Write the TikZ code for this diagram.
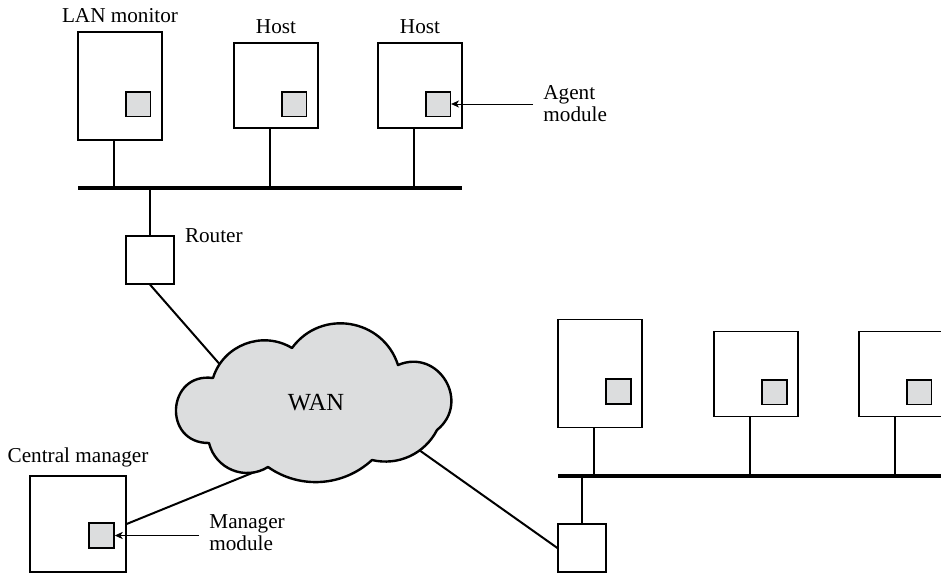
\documentclass[tikz,border=0pt]{standalone}
\usepackage{fontspec}
\setmainfont{Liberation Serif}
\usetikzlibrary{arrows.meta}
\definecolor{modgray}{HTML}{DCDDDE}

\begin{document}
\begin{tikzpicture}[x=0.5pt, y=-0.5pt,
    font=\fontsize{10.6}{11}\selectfont,
    box/.style={draw, line width=0.6pt, minimum width=42pt, inner sep=0pt},
    tallbox/.style={box, minimum height=54pt},
    hostbox/.style={box, minimum height=42.5pt},
    module/.style={draw, fill=modgray, line width=0.8pt, minimum size=12.3pt, inner sep=0pt},
    bus/.style={line width=2pt},
    drop/.style={line width=0.6pt},
    link/.style={line width=1pt},
    pointer/.style={-{Stealth[length=4pt,width=3.6pt,inset=1.2pt]}, line width=0.5pt},
    txt/.style={inner sep=0pt}]
  \useasboundingbox (0,0) rectangle (941,573);
  % ---------------------------------------------------------------- upper LAN
  \node[tallbox] (mon) at (120,86) {};
  \node[hostbox] (hostA) at (276,85.5) {};
  \node[hostbox] (hostB) at (420,85.5) {};
  \node[module] (mMon) at (138,104) {};
  \node[module] (mHostA) at (294,104) {};
  \node[module] (mHostB) at (438,104) {};
  \node[txt, anchor=base] (monLbl) at ([yshift=4.5pt]mon.north) {LAN monitor};
  \node[txt, anchor=base] (hostALbl) at ([yshift=4.5pt]hostA.north) {Host};
  \node[txt, anchor=base] (hostBLbl) at ([yshift=4.5pt]hostB.north) {Host};
  % the agent module pointer
  \node[anchor=west, align=left, inner xsep=5pt, inner ysep=0pt] (agentTxt) at (533,104) {Agent\\module};
  \draw[pointer] (agentTxt.west) -- (mHostB.east);
  % the bus and its drops
  \coordinate (busAW) at (78,188);
  \coordinate (busAE) at (462,188);
  \draw[bus] (busAW) -- (busAE);
  \foreach \n in {mon,hostA,hostB}
    \draw[drop] ([xshift=-3pt]\n.south) -- ([xshift=-3pt]\n.south |- busAW);
  % router
  \node[box, minimum width=24pt, minimum height=24pt] (rtr) at (150,260) {};
  \node[txt, anchor=base west] (rtrLbl) at ([xshift=5pt,yshift=-3.5pt]rtr.north east) {Router};
  \draw[drop] (rtr.north) -- (rtr.north |- busAW);
  % ---------------------------------------------------------------- central manager
  \node[box, minimum width=48pt, minimum height=48pt] (mgr) at (78,524) {};
  \node[module, minimum size=12.5pt] (mMgr) at (101.5,535.5) {};
  \node[txt, anchor=base] (mgrLbl) at ([yshift=6.5pt]mgr.north) {Central manager};
  \node[anchor=west, align=left, inner xsep=5pt, inner ysep=0pt] (mgrTxt) at (199,533) {Manager\\module};
  \draw[pointer] (mgrTxt.west |- mMgr.east) -- (mMgr.east);
  % ---------------------------------------------------------------- lower LAN
  \node[tallbox] (hostC) at (600,373.5) {};
  \node[hostbox] (hostD) at (756,374) {};
  \node[hostbox] (hostE) at (901,374) {};
  \node[module] (mHostC) at (618.5,391.5) {};
  \node[module] (mHostD) at (774.5,392) {};
  \node[module] (mHostE) at (919,392) {};
  \coordinate (busBW) at (558,476);
  \coordinate (busBE) at (941,476);
  \draw[bus] (busBW) -- (busBE);
  \foreach \n in {hostC,hostD,hostE}
    \draw[drop] ([xshift=-3pt]\n.south) -- ([xshift=-3pt]\n.south |- busBW);
  \node[box, minimum width=24pt, minimum height=24pt] (rtrB) at (582,548) {};
  \draw[drop] (rtrB.north) -- (rtrB.north |- busBW);
  % ---------------------------------------------------------------- WAN links, then the cloud on top
  \coordinate (wanNW) at (223,368);
  \coordinate (wanSW) at (262,469);
  \coordinate (wanSE) at (412,445);
  \draw[link] (rtr.south) -- (wanNW);
  \draw[link] (mgr.east) -- (wanSW);
  \draw[link] (rtrB.west) -- (wanSE);
  % the cloud: seven puffs between its cusps
  \coordinate (c1) at (213,378);
  \coordinate (c2) at (292,348);
  \coordinate (c3) at (398,365);
  \coordinate (c4) at (437,430);
  \coordinate (c5) at (372,460);
  \coordinate (c6) at (268,467);
  \coordinate (c7) at (209,443);
  \draw[fill=modgray, line width=1.2pt, line join=round]
    (c7) to[bend left=94, looseness=1.84] (c1)
         to[bend left=52, looseness=1.05] (c2)
         to[bend left=63, looseness=1.17] (c3)
         to[bend left=82, looseness=1.49] (c4)
         to[bend left=38, looseness=0.96] (c5)
         to[bend left=39, looseness=0.96] (c6)
         to[bend left=54, looseness=1.08] (c7) -- cycle;
  \node[font=\fontsize{12.3}{14}\selectfont] (wan) at (316,403) {WAN};
\end{tikzpicture}
\end{document}
